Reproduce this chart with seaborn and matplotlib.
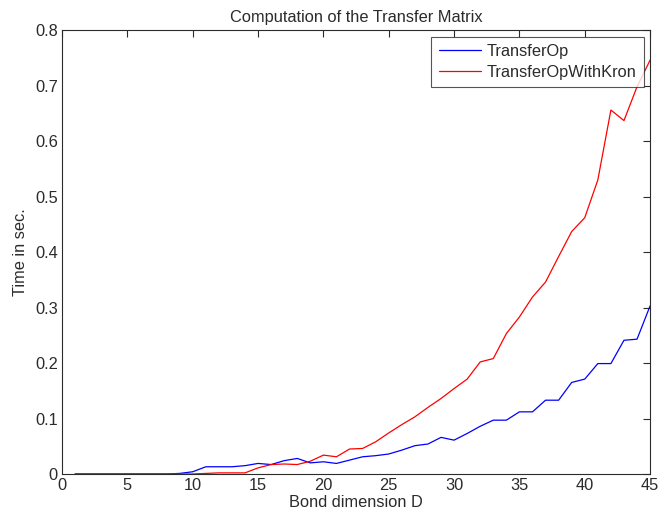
import numpy as np
import pandas as pd
import matplotlib
matplotlib.use("Agg")
import matplotlib.pyplot as plt
import seaborn as sns

# Bond dimensions D = 1..45
bond_dim = list(range(1, 46))

# Timings (seconds) for each method
transfer_op = [
    0.000, 0.000, 0.000, 0.000, 0.000, 0.000, 0.000, 0.000, 0.001, 0.004,
    0.013, 0.013, 0.013, 0.015, 0.019, 0.017, 0.024, 0.028, 0.020, 0.022,
    0.019, 0.025, 0.031, 0.033, 0.036, 0.043, 0.051, 0.054, 0.066, 0.061,
    0.073, 0.086, 0.097, 0.097, 0.112, 0.112, 0.133, 0.133, 0.165, 0.171,
    0.199, 0.199, 0.241, 0.243, 0.303,
]
transfer_op_kron = [
    0.000, 0.000, 0.000, 0.000, 0.000, 0.000, 0.000, 0.000, 0.000, 0.000,
    0.001, 0.002, 0.002, 0.002, 0.011, 0.017, 0.018, 0.017, 0.023, 0.034,
    0.031, 0.045, 0.046, 0.058, 0.074, 0.089, 0.103, 0.120, 0.136, 0.154,
    0.171, 0.202, 0.208, 0.253, 0.283, 0.319, 0.346, 0.392, 0.437, 0.462,
    0.530, 0.656, 0.637, 0.698, 0.746,
]
series_names = ["TransferOp", "TransferOpWithKron"]

df = pd.DataFrame({
    "D": bond_dim * 2,
    "time": transfer_op + transfer_op_kron,
    "method": [series_names[0]] * len(bond_dim) + [series_names[1]] * len(bond_dim),
})

FS = 11.8
TXT = "#2b2b2b"

sns.set_style("white")
plt.rcParams["font.family"] = ["Liberation Sans", "DejaVu Sans"]
plt.rcParams["font.size"] = FS

fig = plt.figure(figsize=(6.6, 5.2), dpi=100)
ax = fig.add_axes([0.094, 0.0885, 0.891, 0.8535])

sns.lineplot(data=df, x="D", y="time", hue="method",
             palette={series_names[0]: "#0000ff", series_names[1]: "#ff0000"},
             linewidth=0.9, ax=ax, legend=True)

ax.set_xlim(0, 45)
ax.set_ylim(0, 0.8)
ax.set_xticks(np.arange(0, 46, 5))
ax.set_yticks(np.arange(0, 0.81, 0.1))
ax.set_yticklabels(["0", "0.1", "0.2", "0.3", "0.4", "0.5", "0.6", "0.7", "0.8"])
ax.tick_params(direction="in", length=5, width=0.8, top=True, right=True,
               labelsize=FS, colors=TXT, labelcolor=TXT, pad=3)
for spine in ax.spines.values():
    spine.set_visible(True)
    spine.set_color(TXT)
    spine.set_linewidth(0.8)

ax.set_xlabel("Bond dimension D", fontsize=FS, labelpad=1, color=TXT)
ax.set_ylabel("Time in sec.", fontsize=FS, labelpad=5, color=TXT)
ax.set_title("Computation of the Transfer Matrix", fontsize=FS, pad=6, color=TXT)

leg = ax.legend(loc="upper right", fontsize=FS, frameon=True, fancybox=False,
                borderaxespad=0.4, handlelength=2.6, borderpad=0.45,
                labelspacing=0.35, handletextpad=0.3)
leg.get_frame().set_edgecolor(TXT)
leg.get_frame().set_linewidth(0.8)
for text in leg.get_texts():
    text.set_color(TXT)
for line in leg.get_lines():
    line.set_linewidth(0.9)

fig.savefig("out.png", dpi=100, facecolor="white")
